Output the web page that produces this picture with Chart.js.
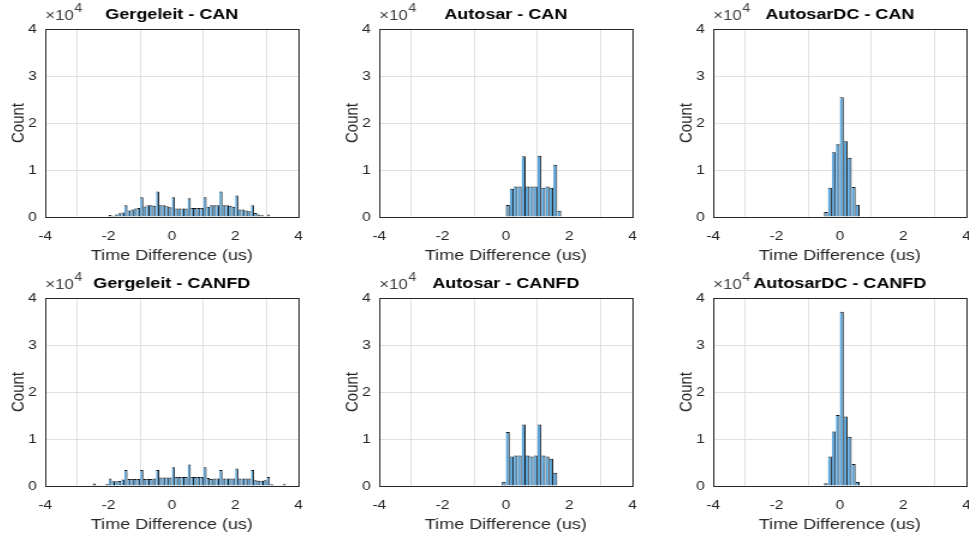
<!DOCTYPE html>
<html>
<head>
<meta charset="utf-8">
<script src="https://cdn.jsdelivr.net/npm/chart.js@4.4.1/dist/chart.umd.min.js"></script>
<style>
  html, body { margin: 0; padding: 0; background: #fff; width: 969px; height: 539px; overflow: hidden; position: relative; }
  .panel { position: absolute; transform-origin: 0 0; }
  .panel canvas { display: block; }
</style>
</head>
<body>
<script>
// --- DATA (counts per bin) ---
const xTickValues = [-4, -2, 0, 2, 4];
const yTickValues = [0, 10000, 20000, 30000, 40000];
const yTickScale = 1e4;

const panelTitles = [
  'Gergeleit - CAN', 'Autosar - CAN', 'AutosarDC - CAN',
  'Gergeleit - CANFD', 'Autosar - CANFD', 'AutosarDC - CANFD'
];

// Gergeleit - CAN : bins of 0.1 us starting at -2.0
const gergeleitCanFirstEdge = -2.0;
const gergeleitCanBinWidth = 0.1;
const gergeleitCanCounts = [
  450, 250, 550, 800, 950, 2500, 1400, 1600, 1800, 1900,
  4200, 2250, 2500, 2500, 2400, 5400, 2500, 2500, 2300, 2100,
  4200, 1800, 1800, 1800, 1800, 4000, 1900, 1900, 1900, 1900,
  4200, 2200, 2500, 2500, 2500, 5400, 2500, 2500, 2400, 2200,
  4600, 1600, 1600, 1400, 1200, 2500, 850, 550, 350, 150, 550
];

// Autosar - CAN : bins of 0.125 us starting at 0
const autosarCanFirstEdge = 0;
const autosarCanBinWidth = 0.125;
const autosarCanCounts = [2550, 6000, 6500, 6500, 12900, 6500, 6500, 6500, 13050, 6200, 6500, 6200, 11100, 1350];

// AutosarDC - CAN : bins of 0.125 us starting at -0.5
const autosarDcCanFirstEdge = -0.5;
const autosarDcCanBinWidth = 0.125;
const autosarDcCanCounts = [1050, 6200, 13800, 15500, 25500, 16100, 12600, 6400, 2600];

// Gergeleit - CANFD : bins of 0.1 us starting at -2.5
const gergeleitCanfdFirstEdge = -2.5;
const gergeleitCanfdBinWidth = 0.1;
const gergeleitCanfdCounts = [
  550, 50, 50, 100, 500, 1600, 1000, 1000, 1050, 1400,
  3400, 1500, 1500, 1500, 1500, 3400, 1500, 1500, 1500, 1600,
  3400, 1800, 1800, 1800, 1800, 4000, 1900, 1900, 1900, 1900,
  4600, 1900, 1900, 1900, 1900, 4000, 1700, 1500, 1600, 1600,
  3400, 1600, 1600, 1600, 1600, 3700, 1600, 1600, 1600, 1600,
  3400, 1200, 1100, 1100, 1200, 1900, 350, 50, 50, 50, 500
];

// Autosar - CANFD : bins of 0.125 us starting at -0.125
const autosarCanfdFirstEdge = -0.125;
const autosarCanfdBinWidth = 0.125;
const autosarCanfdCounts = [900, 11500, 6300, 6500, 6500, 13100, 6500, 6300, 6500, 13100, 6500, 6300, 5800, 2800];

// AutosarDC - CANFD : bins of 0.125 us starting at -0.5
const autosarDcCanfdFirstEdge = -0.5;
const autosarDcCanfdBinWidth = 0.125;
const autosarDcCanfdCounts = [600, 6300, 11600, 15100, 37100, 14800, 10500, 4700, 850];

// --- LAYOUT ---
const S = 1.2;                // reference is stretched horizontally
const Y_AXIS_W = 36, X_AXIS_H = 50, TITLE_H = 29, PLOT_W = 211, PLOT_H = 188, PAD_R = 4;
const colLeft = [45, 379, 713];
const rowTop = [29, 298];

const FONT = '"Liberation Sans", Arial, Helvetica, sans-serif';
const AXIS_COLOR = '#262626';
const GRID_COLOR = '#e0e0e0';
const BAR_FILL = 'rgb(94,166,218)';
const BAR_EDGE = '#111';

Chart.defaults.font.family = FONT;

// box round the axes + the x10^4 exponent label
const axesBox = {
  id: 'axesBox',
  afterDraw(chart) {
    const { ctx, chartArea: a } = chart;
    const al = v => Math.round(v + 0.5) - 0.5;
    ctx.save();
    ctx.strokeStyle = AXIS_COLOR;
    ctx.lineWidth = 1;
    ctx.strokeRect(al(a.left), al(a.top), al(a.right) - al(a.left), al(a.bottom) - al(a.top));
    ctx.fillStyle = '#404040';
    ctx.textBaseline = 'alphabetic';
    ctx.textAlign = 'left';
    ctx.font = '14px ' + FONT;
    const base = a.top - 9;
    ctx.fillText('\u00d710', a.left, base);
    const w = ctx.measureText('\u00d710').width;
    ctx.font = '12px ' + FONT;
    ctx.fillText('4', a.left + w + 0.5, base - 8.5);
    ctx.restore();
  }
};

// MATLAB draws one shared edge between neighbouring bins
const edgeWidth = c => ({ left: c.dataIndex === 0 ? 1 : 0, right: 1, top: 1, bottom: 0 });

function makePanel(idx, title, firstEdge, binWidth, counts) {
  const col = idx % 3, row = Math.floor(idx / 3);
  const wrap = document.createElement('div');
  wrap.className = 'panel';
  wrap.style.left = (colLeft[col] - Y_AXIS_W * S) + 'px';
  wrap.style.top = (rowTop[row] - TITLE_H) + 'px';
  wrap.style.transform = 'scaleX(' + S + ')';
  const canvas = document.createElement('canvas');
  canvas.width = Y_AXIS_W + PLOT_W + PAD_R;
  canvas.height = TITLE_H + PLOT_H + X_AXIS_H;
  canvas.style.width = canvas.width + 'px';
  canvas.style.height = canvas.height + 'px';
  wrap.appendChild(canvas);
  document.body.appendChild(wrap);

  const points = counts.map((c, i) => ({ x: firstEdge + (i + 0.5) * binWidth, y: c }));

  new Chart(canvas, {
    type: 'bar',
    data: {
      datasets: [{
        data: points,
        backgroundColor: BAR_FILL,
        borderColor: BAR_EDGE,
        borderWidth: edgeWidth,
        borderSkipped: false,
        inflateAmount: 0,
        barPercentage: 1,
        categoryPercentage: 1
      }]
    },
    options: {
      responsive: false,
      animation: false,
      devicePixelRatio: 1,
      layout: { padding: { left: 0, right: PAD_R, top: 0, bottom: 0 } },
      plugins: {
        legend: { display: false },
        tooltip: { enabled: false },
        title: {
          display: true,
          text: title,
          fullSize: false,
          color: '#000',
          font: { size: 15, weight: 'bold' },
          padding: { top: 6, bottom: 5 }
        }
      },
      scales: {
        x: {
          type: 'linear',
          min: -4, max: 4,
          offset: false,
          afterBuildTicks: s => { s.ticks = xTickValues.map(v => ({ value: v })); },
          afterFit: s => { s.height = X_AXIS_H; s.paddingLeft = 0; s.paddingRight = 0; },
          grid: { color: GRID_COLOR, drawTicks: false },
          border: { color: AXIS_COLOR },
          ticks: { color: AXIS_COLOR, font: { size: 13 }, padding: 12, maxRotation: 0, callback: v => String(v) },
          title: { display: true, text: 'Time Difference (us)', color: AXIS_COLOR, font: { size: 15 }, padding: { top: 0, bottom: 2 } }
        },
        y: {
          min: 0, max: 40000,
          afterBuildTicks: s => { s.ticks = yTickValues.map(v => ({ value: v })); },
          afterFit: s => { s.width = Y_AXIS_W; s.paddingTop = 0; s.paddingBottom = 0; },
          grid: { color: GRID_COLOR, drawTicks: false },
          border: { color: AXIS_COLOR },
          ticks: { color: AXIS_COLOR, font: { size: 13 }, padding: 7, callback: v => String(v / yTickScale) },
          title: { display: true, text: 'Count', color: AXIS_COLOR, font: { size: 15 }, padding: { top: 4.5, bottom: 0 } }
        }
      }
    },
    plugins: [axesBox]
  });
}

makePanel(0, panelTitles[0], gergeleitCanFirstEdge, gergeleitCanBinWidth, gergeleitCanCounts);
makePanel(1, panelTitles[1], autosarCanFirstEdge, autosarCanBinWidth, autosarCanCounts);
makePanel(2, panelTitles[2], autosarDcCanFirstEdge, autosarDcCanBinWidth, autosarDcCanCounts);
makePanel(3, panelTitles[3], gergeleitCanfdFirstEdge, gergeleitCanfdBinWidth, gergeleitCanfdCounts);
makePanel(4, panelTitles[4], autosarCanfdFirstEdge, autosarCanfdBinWidth, autosarCanfdCounts);
makePanel(5, panelTitles[5], autosarDcCanfdFirstEdge, autosarDcCanfdBinWidth, autosarDcCanfdCounts);
</script>
</body>
</html>
